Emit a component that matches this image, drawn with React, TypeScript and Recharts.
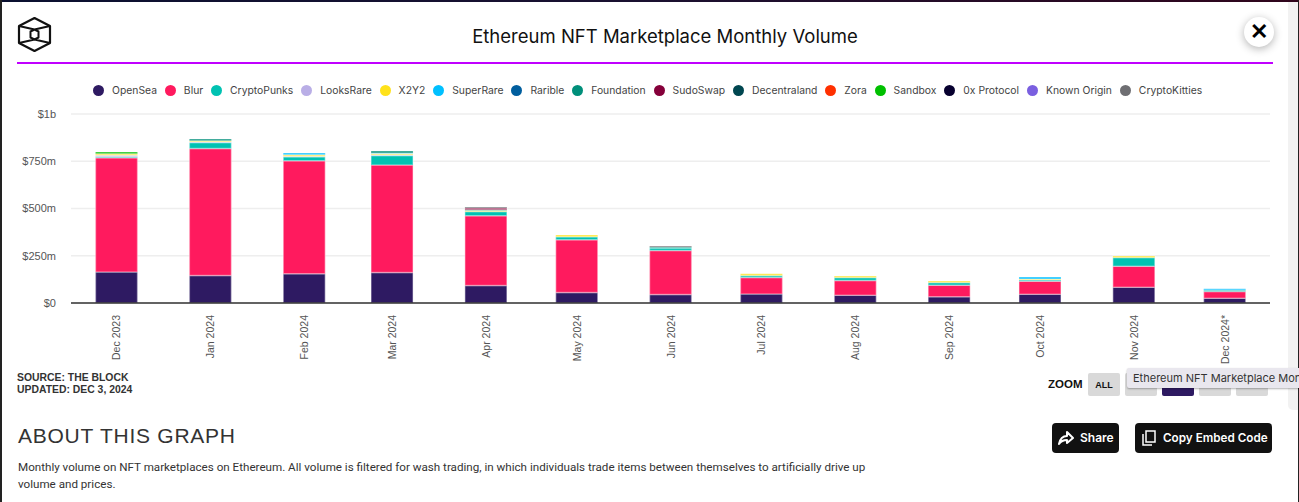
import React from "react";
import { BarChart, Bar, XAxis, YAxis, CartesianGrid, Legend } from "recharts";

const months = ["2023-12-01","2024-01-01","2024-02-01","2024-03-01","2024-04-01","2024-05-01","2024-06-01","2024-07-01","2024-08-01","2024-09-01","2024-10-01","2024-11-01","2024-12-01"];
const monthLabels = ["Dec 2023","Jan 2024","Feb 2024","Mar 2024","Apr 2024","May 2024","Jun 2024","Jul 2024","Aug 2024","Sep 2024","Oct 2024","Nov 2024","Dec 2024*"];

const openSea = [164,145,155,161,92,55,45,47,41,33,46,83,25];
const blur = [605,672,598,569,370,280,233,88,78,61,69,111,36];
const cryptoPunks = [5,32,21,50,22,16,13,11,16,15,8,47,8];
const looksRare = [8,4,2,5,0,0,0,0,0,0,0,0,0];
const x2y2 = [8,5,8,6,5,9,0,9,8,7,4,8,0];
const superRare = [0,0,10,3,0,0,0,0,0,0,10,0,6];
const rarible = [0,0,0,0,0,0,0,0,0,0,0,0,0];
const foundation = [0,10,0,10,5,0,5,0,0,0,0,0,0];
const sudoSwap = [0,0,0,0,8,0,0,0,0,0,0,0,0];
const decentraland = [0,0,0,0,0,0,0,0,0,0,0,0,0];
const zora = [0,0,0,0,0,0,0,0,0,0,0,0,0];
const sandbox = [9,0,0,0,0,0,0,0,0,0,0,0,0];
const zeroX = [0,0,0,0,0,0,0,0,0,0,0,0,0];
const knownOrigin = [0,0,0,0,0,0,0,0,0,0,0,0,0];
const cryptoKitties = [0,0,0,0,6,0,6,0,0,0,0,0,0];

const seriesNames = ["OpenSea","Blur","CryptoPunks","LooksRare","X2Y2","SuperRare","Rarible","Foundation","SudoSwap","Decentraland","Zora","Sandbox","0x Protocol","Known Origin","CryptoKitties"];
const seriesValues = [openSea,blur,cryptoPunks,looksRare,x2y2,superRare,rarible,foundation,sudoSwap,decentraland,zora,sandbox,zeroX,knownOrigin,cryptoKitties];
const seriesColors = ["#2e1a62","#ff1a5e","#00c2b2","#b9aee6","#ffe21a","#00c0ff","#005e9e","#008f7a","#85003a","#004650","#ff3000","#00c000","#07002f","#7a5fe0","#6e6e72"];

const yTicks = [0,250,500,750,1000];
const yLabels: Record<number,string> = {0:"$0",250:"$250m",500:"$500m",750:"$750m",1000:"$1b"};
const DAY = 86400000;
const times = months.map((m) => Date.parse(m));
const data = times.map((t, i) => {
  const row: Record<string, number> = { t };
  seriesNames.forEach((n, s) => { row[n] = seriesValues[s][i]; });
  return row;
});

const sans = "'Liberation Sans', Arial, sans-serif";
const ui = "Inter, sans-serif";

const XTick = (p: any) => {
  const i = times.indexOf(p.payload.value);
  return (
    <text x={p.x} y={315} dy={4} transform={`rotate(-90 ${p.x} 315)`} textAnchor="end" fontFamily={sans} fontSize={10.5} fill="#555">
      {monthLabels[i]}
    </text>
  );
};

const LegendRow = () => (
  <div style={{ display: "flex", justifyContent: "flex-start", paddingLeft: 93, fontFamily: ui, fontSize: 10.35, color: "#444", lineHeight: "20px" }}>
    {seriesNames.map((n, i) => (
      <span key={n} style={{ display: "inline-flex", alignItems: "center", marginRight: 7.9, whiteSpace: "nowrap" }}>
        <span style={{ width: 11, height: 11, borderRadius: "50%", background: seriesColors[i], marginRight: 8, display: "inline-block" }} />
        {n}
      </span>
    ))}
  </div>
);

const abs = (x: number, y: number, w: number, h: number): React.CSSProperties => ({ position: "absolute", left: x, top: y, width: w, height: h });

const zoomButtons = [
  { label: "ALL", x: 1088, bg: "#d9d9d9", fg: "#111" },
  { label: "YTD", x: 1125, bg: "#d9d9d9", fg: "#111" },
  { label: "1Y", x: 1162, bg: "#2e1a62", fg: "#fff" },
  { label: "6M", x: 1199, bg: "#d9d9d9", fg: "#111" },
  { label: "3M", x: 1236, bg: "#d9d9d9", fg: "#111" },
];

export default function App() {
  return (
    <div style={{ position: "fixed", left: 0, top: 0, width: 1299, height: 502, background: "#fff", overflow: "hidden" }}>
      <div style={{ ...abs(0, 0, 1299, 2), background: "linear-gradient(90deg,#0a1030,#1a1030 50%,#30051c)" }} />
      <div style={{ ...abs(0, 0, 2, 502), background: "#222" }} />
      <div style={{ ...abs(1298, 0, 1, 502), background: "#222" }} />
      <div style={{ ...abs(1288, 2, 10, 408), background: "#f2f2f2", borderRadius: "0 0 0 5px" }} />

      <svg style={abs(17, 16, 35, 37)} viewBox="0 0 35 37" fill="none" stroke="#111" strokeWidth="2.2" strokeLinejoin="round">
        <path d="M17.5 2 L33 10 L33 27 L17.5 35 L2 27 L2 10 Z" />
        <path d="M2 10 L17.5 13.5 L33 10 M2 27 L17.5 23.5 L33 27 M17.5 13.5 L21.5 15.5 L21.5 21.5 L17.5 23.5 L13.5 21.5 L13.5 15.5 Z" strokeWidth="2" />
      </svg>

      <div style={{ position: "absolute", left: 373, width: 584, top: 24, textAlign: "center", fontFamily: ui, fontSize: 18.5, lineHeight: "25px", color: "#111" }}>
        Ethereum NFT Marketplace Monthly Volume
      </div>
      <div style={{ ...abs(17, 62, 1256, 1.5), background: "#c000ff" }} />

      <div style={{ ...abs(1244, 17, 30, 30), borderRadius: "50%", background: "#fff", boxShadow: "0 2px 8px rgba(0,0,0,.3)", textAlign: "center", fontFamily: sans, fontWeight: 700, fontSize: 22, lineHeight: "30px", color: "#000" }}>
        ✕
      </div>

      <div style={abs(0, 0, 1299, 370)}>
        <BarChart width={1299} height={370} data={data} margin={{ top: 94, right: 29, left: 0, bottom: 0 }} barSize={42}>
          <CartesianGrid horizontal vertical={false} stroke="#eeeeee" strokeWidth={1.5} />
          <XAxis
            dataKey="t"
            type="number"
            scale="time"
            domain={[times[0] - 15 * DAY, times[12] + 15 * DAY]}
            ticks={times}
            tick={<XTick />}
            tickLine={false}
            axisLine={{ stroke: "#333", strokeWidth: 1.5 }}
            height={67}
            interval={0}
          />
          <YAxis
            width={71}
            domain={[0, 1000]}
            ticks={yTicks}
            tickFormatter={(v: number) => yLabels[v]}
            tick={{ fontFamily: sans, fontSize: 11, fill: "#555" }}
            tickLine={false}
            axisLine={false}
            tickMargin={9}
          />
          <Legend verticalAlign="top" content={<LegendRow />} wrapperStyle={{ top: 80, left: 0, width: 1299, height: 20 }} height={0} />
          {seriesNames.map((n, i) => (
            <Bar key={n} dataKey={n} stackId="a" fill={seriesColors[i]} stroke="#ffffff" strokeOpacity={0.35} strokeWidth={1.5} isAnimationActive={false} />
          ))}
        </BarChart>
      </div>

      <div style={{ position: "absolute", left: 17, top: 372, fontFamily: sans, fontWeight: 700, fontSize: 10.4, lineHeight: "12px", color: "#333" }}>
        SOURCE: THE BLOCK<br />UPDATED: DEC 3, 2024
      </div>

      <div style={{ position: "absolute", left: 1048, top: 378, fontFamily: sans, fontWeight: 700, fontSize: 11.5, lineHeight: "12px", color: "#111" }}>ZOOM</div>
      {zoomButtons.map((b) => (
        <div key={b.label} style={{ ...abs(b.x, 373, 32, 23), background: b.bg, color: b.fg, borderRadius: 2, textAlign: "center", fontFamily: sans, fontWeight: 700, fontSize: 9, lineHeight: "25px" }}>{b.label}</div>
      ))}
      <div style={{ ...abs(1127, 368, 172, 20), background: "#e9e7ee", borderRadius: "2px 0 0 2px", boxShadow: "0 1px 2px rgba(0,0,0,.3)", fontFamily: ui, fontSize: 11, lineHeight: "20px", color: "#333", paddingLeft: 6, whiteSpace: "nowrap", overflow: "hidden", boxSizing: "border-box" }}>
        Ethereum NFT Marketplace Monthly Volume
      </div>

      <div style={{ position: "absolute", left: 18, top: 423, fontFamily: sans, fontSize: 21, letterSpacing: 0.75, lineHeight: "26px", color: "#333" }}>ABOUT THIS GRAPH</div>

      <div style={{ ...abs(1052, 423, 67, 30), background: "#111", borderRadius: 4, color: "#fff", fontFamily: ui, fontWeight: 600, fontSize: 12, lineHeight: "30px" }}>
        <svg style={{ position: "absolute", left: 6, top: 7 }} width="16" height="16" viewBox="0 0 16 16" fill="none" stroke="#fff" strokeWidth="2" strokeLinejoin="round"><path d="M9 2 L15 8 L9 13 L9 10 C5 10 3 11 1 14 C2 9 4 6 9 6 Z" /></svg>
        <span style={{ position: "absolute", left: 28 }}>Share</span>
      </div>
      <div style={{ ...abs(1135, 423, 137, 30), background: "#111", borderRadius: 4, color: "#fff", fontFamily: ui, fontWeight: 600, fontSize: 11.7, lineHeight: "30px" }}>
        <svg style={{ position: "absolute", left: 7, top: 7 }} width="14" height="16" viewBox="0 0 14 16" fill="none" stroke="#fff" strokeWidth="1.5"><rect x="4" y="1" width="9" height="11" /><path d="M1 4 L1 15 L10 15" /></svg>
        <span style={{ position: "absolute", left: 28, whiteSpace: "nowrap" }}>Copy Embed Code</span>
      </div>

      <div style={{ position: "absolute", left: 18, top: 459, width: 900, fontFamily: "Roboto, sans-serif", fontSize: 11.63, lineHeight: "17px", color: "#333", whiteSpace: "nowrap" }}>
        Monthly volume on NFT marketplaces on Ethereum. All volume is filtered for wash trading, in which individuals trade items between themselves to artificially drive up<br />volume and prices.
      </div>
    </div>
  );
}
